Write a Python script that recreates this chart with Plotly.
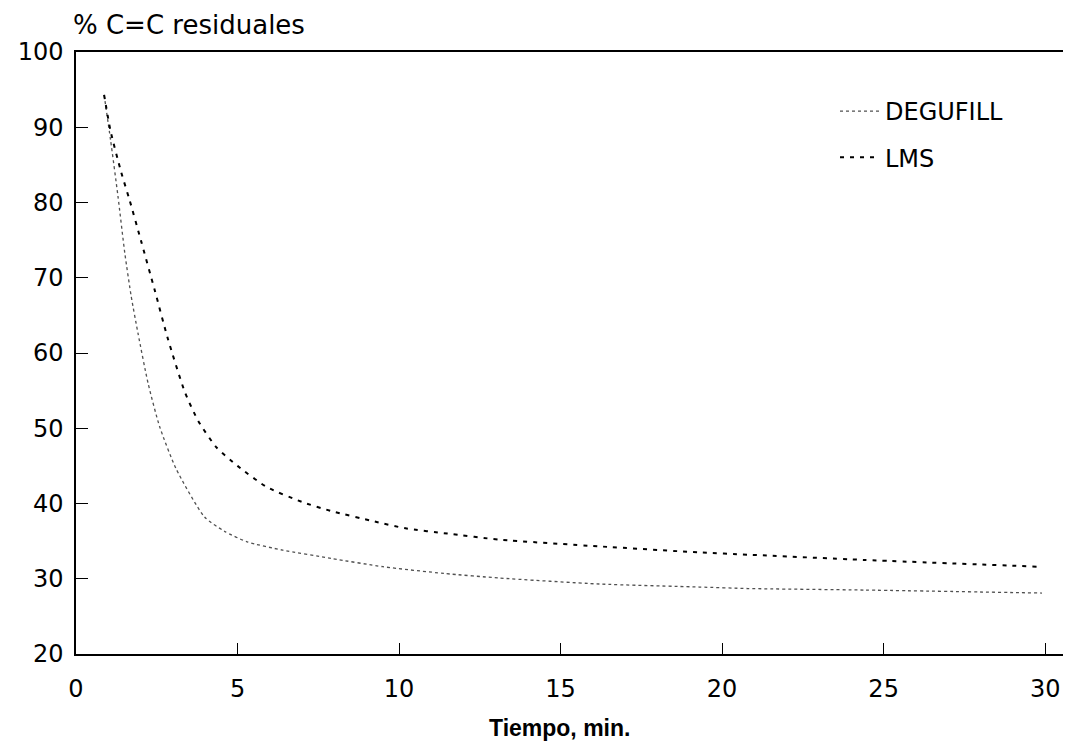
import plotly.graph_objects as go

# Data
deg_x = [0.87, 1.07, 1.30, 1.51, 1.71, 1.92, 2.23, 2.59, 3.1, 3.98, 4.6, 5.3, 6.4, 7.9, 9.5, 11.4, 13.1, 16.2, 19.3, 20.8, 24.4, 29.9]
deg_y = [94.3, 88.3, 80.8, 73.3, 67.5, 62.6, 56.0, 50.2, 44.6, 38.2, 36.3, 34.9, 33.8, 32.7, 31.6, 30.7, 30.1, 29.3, 28.9, 28.7, 28.5, 28.1]

lms_x = [0.87, 1.07, 1.40, 1.66, 2.02, 2.44, 2.85, 3.37, 3.78, 4.34, 5.0, 5.9, 7.0, 7.9, 9.25, 10.2, 11.5, 13.1, 16.2, 19.3, 20.8, 24.4, 29.8]
lms_y = [94.3, 89.5, 84.0, 80.3, 74.8, 68.3, 61.8, 54.8, 51.0, 47.5, 45.0, 42.2, 40.2, 39.0, 37.6, 36.7, 36.0, 35.2, 34.3, 33.5, 33.2, 32.5, 31.6]

x_ticks = [0, 5, 10, 15, 20, 25, 30]
y_ticks = [20, 30, 40, 50, 60, 70, 80, 90, 100]

y_title = "% C=C residuales"
x_title = "Tiempo, min."

wide_font = "DejaVu Sans, Verdana, sans-serif"
narrow_font = "Liberation Sans, Arial, sans-serif"

# the page body adds an 8px margin, so the figure is 8px smaller than the window
OFF = 8
W, H = 1071 - OFF, 747 - OFF
L, R, T, B = 76 - OFF, 0, 52 - OFF, 747 - 654
PW, PH = W - L - R, H - T - B


def px_x(p):
    """page pixel x -> paper coordinate"""
    return (p - OFF - L) / PW


def px_y(p):
    """page pixel y -> paper coordinate"""
    return 1 - (p - OFF - T) / PH


fig = go.Figure()
fig.add_trace(go.Scatter(
    x=deg_x, y=deg_y, mode="lines", name="DEGUFILL", legendgroup="a",
    line=dict(color="#505050", width=1.3, dash="dot", shape="spline", smoothing=0.6),
))
fig.add_trace(go.Scatter(
    x=lms_x, y=lms_y, mode="lines", name="LMS", legendgroup="b",
    line=dict(color="black", width=2, dash="4px,6px", shape="spline", smoothing=0.6),
))

fig.update_layout(
    width=W, height=H,
    margin=dict(l=L, r=R, t=T, b=B, autoexpand=False),
    paper_bgcolor="white", plot_bgcolor="white",
    font=dict(family=wide_font, color="black"),
    showlegend=True,
    legend=dict(
        x=px_x(835), y=px_y(89), xanchor="left", yanchor="top",
        bgcolor="rgba(0,0,0,0)", borderwidth=0,
        font=dict(size=24, family=wide_font, color="black"),
        tracegroupgap=12, itemwidth=40,
    ),
    xaxis=dict(
        range=[0, 30.8], tickvals=x_ticks, ticktext=[str(v) for v in x_ticks],
        automargin=False,
        showgrid=False, zeroline=False,
        showline=True, linecolor="black", linewidth=1.5, mirror=True,
        ticks="inside", ticklen=11, tickwidth=1.4, tickcolor="black",
        tickfont=dict(size=24, family=wide_font, color="black"),
        ticklabelstandoff=12,
    ),
    yaxis=dict(
        range=[20, 100], tickvals=y_ticks, ticktext=[str(v) for v in y_ticks],
        automargin=False,
        showgrid=False, zeroline=False,
        showline=True, linecolor="black", linewidth=1.5,
        ticks="inside", ticklen=12, tickwidth=1.4, tickcolor="black",
        tickfont=dict(size=24, family=wide_font, color="black"),
        ticklabelstandoff=6,
    ),
    annotations=[
        dict(
            text=y_title, x=px_x(71), y=px_y(25),
            xref="paper", yref="paper", showarrow=False,
            xanchor="left", yanchor="middle",
            font=dict(size=26, family=wide_font, color="black"),
        ),
        dict(
            text="<b>" + x_title + "</b>", x=px_x(559), y=px_y(728),
            xref="paper", yref="paper", showarrow=False,
            xanchor="center", yanchor="middle",
            font=dict(size=23, family=narrow_font, color="black"),
        ),
    ],
)

fig.write_html("out.html")
